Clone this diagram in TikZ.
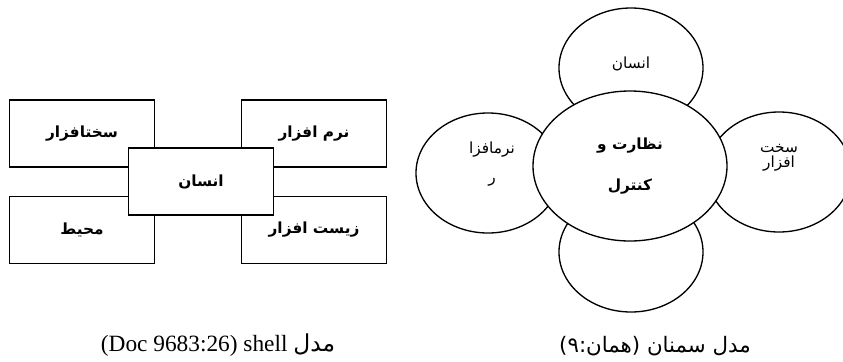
\documentclass[tikz,border=0pt]{standalone}
\usepackage{fontspec}
\setmainfont{Liberation Serif}
\newfontfamily\arabicfont[Script=Arabic]{DejaVu Sans}
\TeXXeTstate=1
\usetikzlibrary{shapes.geometric}

\begin{document}
\begin{tikzpicture}[x=0.75pt, y=-0.75pt,
    box/.style={draw, line width=1pt, fill=white, minimum width=108.75pt, minimum height=50.25pt, inner sep=0pt,
        font=\arabicfont\bfseries\fontsize{11.5}{13}\selectfont},
    petal/.style={draw, ellipse, line width=1pt, fill=white, minimum width=108pt, minimum height=90pt, inner sep=0pt},
    hub/.style={draw, ellipse, line width=1pt, fill=white, minimum width=145.5pt, minimum height=112.5pt, inner sep=0pt,
        align=center, font=\arabicfont\bfseries\fontsize{11.5}{31}\selectfont},
    petaltext/.style={inner sep=0pt, align=center, font=\arabicfont\fontsize{11.5}{14}\selectfont}]
    \useasboundingbox (0,0) rectangle (843,361);

    % SHELL model: four outer boxes, then the human box on top
    \node[box] (hardware) at (82,133.5) {\beginR سختافزار\endR};
    \node[box] (environment) at (82,230) {\beginR محیط\endR};
    \node[box] (software) at (314,133.5) {\beginR نرم افزار\endR};
    \node[box] (liveware) at (314,230) {\beginR زیست افزار\endR};
    \node[box] (human) at (201,181.5) {\beginR انسان\endR};

    % Semnan model: petals first, hub drawn over them
    \node[petal] (top) at (631,68) {};
    \node[petal] (bottom) at (631,252) {};
    \node[petal] (left) at (488,173) {};
    \node[petal] (right) at (779,172) {};
    \node[hub] (control) at (630,166) {\beginR نظارت و\endR\\\beginR کنترل\endR};

    \node[petaltext] (toptext) at (631,64) {\beginR انسان\endR};
    \node[petaltext] (lefttext) at (492,164) {\beginR نرمافزا\endR\\[8pt]\beginR ر\endR};
    \node[petaltext] (righttext) at (779,158) {\beginR سخت\endR\\[-3pt]\beginR افزار\endR};

    % Captions
    \node[inner sep=0pt, font=\fontsize{17.5}{20}\selectfont] (shellcap) at (218,345)
        {(Doc 9683:26) shell {\arabicfont\beginR مدل\endR}};
    \node[inner sep=0pt, font=\arabicfont\fontsize{16}{18}\selectfont] (semnancap) at (655,346)
        {\beginR مدل سمنان (همان:۹)\endR};
\end{tikzpicture}
\end{document}
